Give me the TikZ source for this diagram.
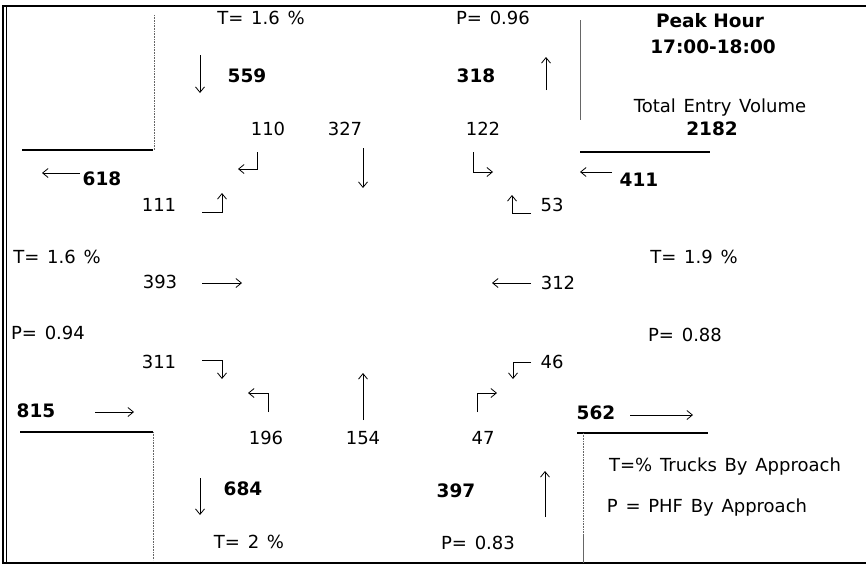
\documentclass[tikz,border=0pt]{standalone}
\usepackage{fontspec}
\setmainfont{DejaVu Sans}
\newfontfamily\lblfont{DejaVu Sans}[WordSpace=1.35]
\usetikzlibrary{arrows.meta}
\begin{document}
\begin{tikzpicture}[x=1pt,y=-1pt,
  lbl/.style={inner sep=0pt,font=\lblfont\fontsize{18}{21}\selectfont},
  vol/.style={inner sep=0pt,font=\fontsize{18.5}{22}\bfseries\selectfont},
  mv/.style={line width=0.8pt,-{Straight Barb[length=5.5pt,width=9pt]}},
  road/.style={line width=1.2pt},
  edge/.style={line width=0.6pt,black!60},
  frame/.style={line width=1.2pt}]
\useasboundingbox (0,0) rectangle (866,574);
% frame
\draw[frame] (866,6) -- (3,6) -- (3,563) -- (866,563);
\draw[line width=0.5pt] (6,6) -- (6,563);
% road edges
\draw[road] (22,150) -- (153,150);
\draw[edge,densely dotted] (154,15) -- (154,150);
\draw[edge] (580,20) -- (580,120);
\draw[road] (580,152) -- (710,152);
\draw[road] (20,432) -- (153,432);
\draw[edge,densely dotted] (153,432) -- (153,560);
\draw[road] (577,433) -- (708,433);
\draw[edge,densely dotted] (583,433) -- (583,535);
\draw[edge] (583,535) -- (583,563);

% north approach
\node[lbl] (tn) at (261,18) {T= 1.6 \%};
\node[vol] (vs) at (247,76) {559};
\draw[mv] (200,55) -- (200,93);
\node[lbl] (pn) at (493,18) {P= 0.96};
\node[vol] (vn) at (476,76) {318};
\draw[mv] (546,90) -- (546,57);
\node[lbl] (sbr) at (268,129) {110};
\node[lbl] (sbt) at (345,129) {327};
\node[lbl] (sbl) at (483,129) {122};
\draw[mv] (257,152) -- (257,169) -- (238,169);
\draw[mv] (363,148) -- (363,188);
\draw[mv] (473,152) -- (473,172) -- (493,172);

% info box
\node[vol] (ph) at (710,21) {Peak Hour};
\node[vol] (tm) at (713,47) {17:00-18:00};
\node[lbl] (te) at (720,108) {Total Entry Volume};
\node[vol] (tv) at (712,129) {2182};

% west approach
\node[vol] (vw) at (102,179) {618};
\draw[mv] (80,173) -- (42,173);
\node[lbl] (ebl) at (159,205) {111};
\draw[mv] (202,212) -- (222,212) -- (222,193);
\node[lbl] (tw) at (57,257) {T= 1.6 \%};
\node[lbl] (ebt) at (160,282) {393};
\draw[mv] (202,283) -- (242,283);
\node[lbl] (pw) at (48,333) {P= 0.94};
\node[lbl] (ebr) at (159,362) {311};
\draw[mv] (202,360) -- (222,360) -- (222,379);
\node[vol] (ve) at (36,411) {815};
\draw[mv] (95,412) -- (134,412);

% east approach
\node[vol] (vee) at (639,180) {411};
\draw[mv] (612,172) -- (580,172);
\node[lbl] (wbr) at (552,205) {53};
\draw[mv] (531,213) -- (512,213) -- (512,195);
\node[lbl] (te2) at (694,257) {T= 1.9 \%};
\node[lbl] (wbt) at (558,283) {312};
\draw[mv] (531,283) -- (492,283);
\node[lbl] (pe) at (685,335) {P= 0.88};
\node[lbl] (wbl) at (552,362) {46};
\draw[mv] (531,362) -- (513,362) -- (513,379);
\node[vol] (vw2) at (596,413) {562};
\draw[mv] (630,415) -- (693,415);

% south approach
\draw[mv] (268,412) -- (268,393) -- (248,393);
\draw[mv] (363,420) -- (363,373);
\draw[mv] (477,412) -- (477,393) -- (497,393);
\node[lbl] (nbl) at (266,438) {196};
\node[lbl] (nbt) at (363,438) {154};
\node[lbl] (nbr) at (483,438) {47};
\node[vol] (vs2) at (243,489) {684};
\draw[mv] (200,478) -- (200,515);
\node[lbl] (ts) at (249,542) {T= 2 \%};
\node[vol] (vn2) at (456,491) {397};
\draw[mv] (545,517) -- (545,471);
\node[lbl] (ps) at (478,543) {P= 0.83};

% legend
\node[lbl] (lg1) at (725,467) {T=\% Trucks By Approach};
\node[lbl] (lg2) at (707,508) {P = PHF By Approach};
\end{tikzpicture}
\end{document}
